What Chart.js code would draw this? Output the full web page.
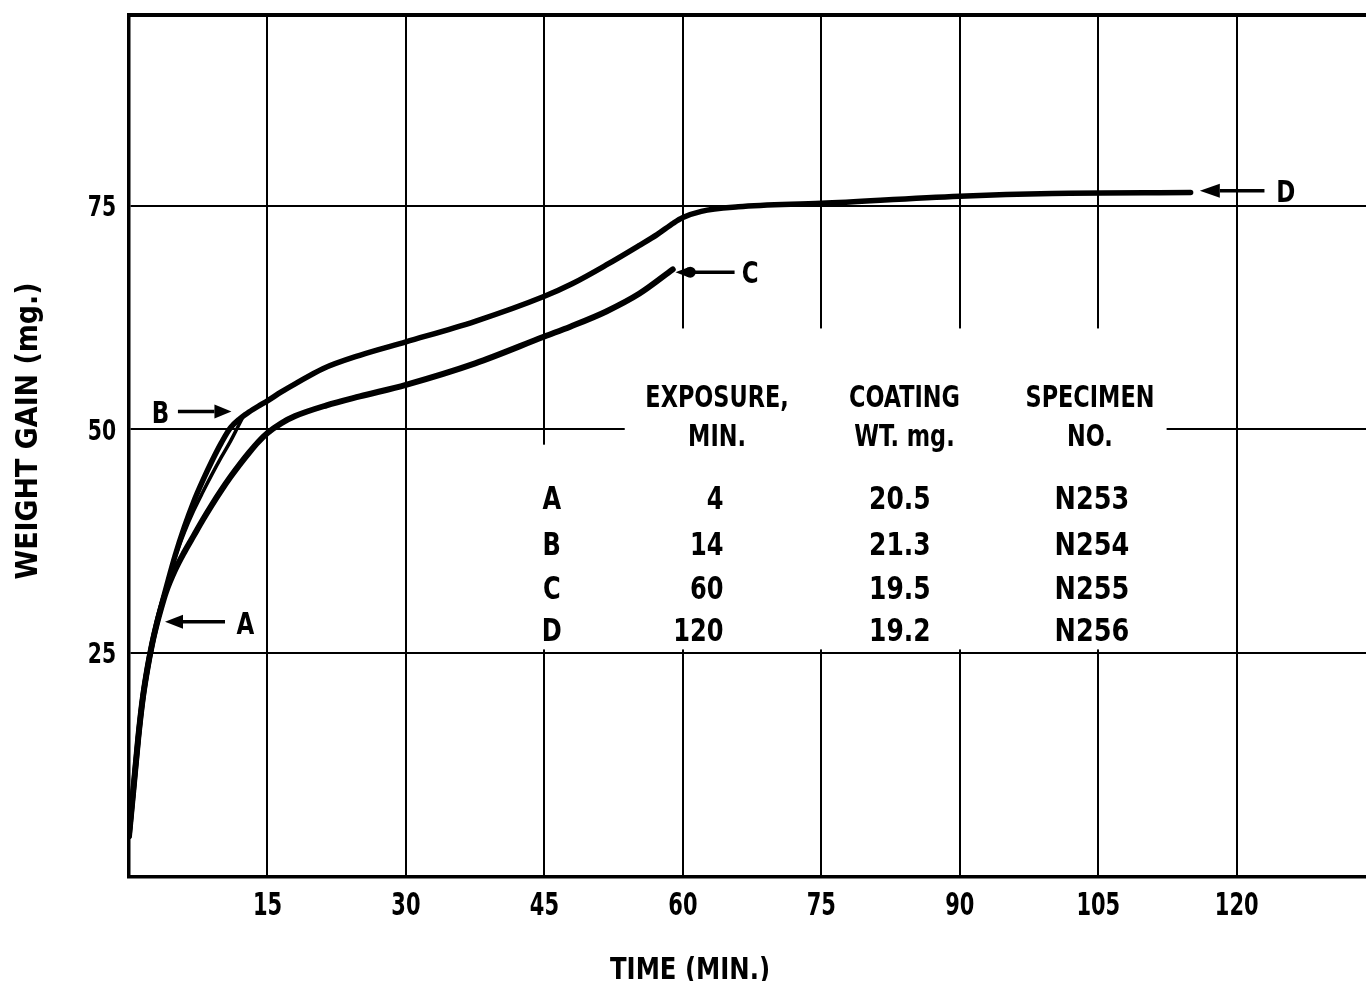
<!DOCTYPE html>
<html>
<head>
<meta charset="utf-8">
<script src="https://cdn.jsdelivr.net/npm/chart.js@4"></script>
<style>
  html, body { margin: 0; padding: 0; background: #fff; overflow: hidden; }
  #wrap { width: 1366px; height: 981px; position: relative; }
</style>
</head>
<body>
<div id="wrap"><canvas id="c"></canvas></div>
<script>
// ---- data ----
const xTicks = [15, 30, 45, 60, 75, 90, 105, 120];
const yTicks = [25, 50, 75];

const timeA = [0, 0.5, 1, 1.5, 2, 2.5, 3, 3.5, 4];
const gainA = [4.5, 10, 15.5, 20, 23.3, 26, 28.3, 30.3, 32.0];

const timeB = [0, 0.5, 1, 1.5, 2, 2.5, 3, 3.5, 4, 5, 6, 7, 8, 9, 10, 11, 11.8, 12.5];
const gainB = [4.5, 10, 15.5, 20, 23.3, 26, 28.3, 30.3, 32.2, 35.7, 38.5, 40.9, 43.0, 45.0, 46.9, 48.7, 50.3, 51.7];

const timeC = [0, 0.5, 1, 1.5, 2, 2.5, 3, 3.5, 4, 5, 6, 7, 8, 9, 10, 11, 12, 13, 14, 15, 16.5, 18, 21.4, 25, 30, 37.5, 45, 47.8, 51.7, 55.3, 58.9];
const gainC = [4.5, 10, 15.5, 20, 23.3, 26, 28.2, 30.1, 31.8, 34.3, 36.3, 38.1, 39.9, 41.6, 43.2, 44.7, 46.1, 47.4, 48.6, 49.6, 50.7, 51.5, 52.7, 53.7, 55.0, 57.4, 60.4, 61.5, 63.2, 65.2, 67.9];

const timeD = [0, 0.5, 1, 1.5, 2, 2.5, 3, 3.5, 4, 5, 6, 7, 8, 9, 10, 11, 12, 13, 14, 15, 16.5, 18, 21, 25, 30, 37.5, 45, 48, 51.7, 55.3, 57.2, 59, 60, 62, 66, 75, 90, 100, 115];
const gainD = [4.5, 10, 15.5, 20, 23.3, 26, 28.3, 30.3, 32.2, 35.9, 39.1, 41.9, 44.3, 46.5, 48.5, 50.2, 51.2, 51.95, 52.6, 53.2, 54.2, 55.1, 56.8, 58.3, 59.8, 62.1, 64.9, 66.3, 68.4, 70.6, 71.8, 73.1, 73.7, 74.4, 74.9, 75.3, 76.1, 76.4, 76.5];

const seriesNames = ['A', 'B', 'C', 'D'];
const exposureMin = ['4', '14', '60', '120'];
const coatingWt = ['20.5', '21.3', '19.5', '19.2'];
const specimenNo = ['N253', 'N254', 'N255', 'N256'];
const tableHead1 = ['EXPOSURE,', 'COATING', 'SPECIMEN'];
const tableHead2 = ['MIN.', 'WT. mg.', 'NO.'];

const xTitle = 'TIME (MIN.)';
const yTitle = 'WEIGHT GAIN (mg.)';

// ---- styling ----
const FAM = "'DejaVu Sans Condensed', 'DejaVu Sans', 'Liberation Sans', sans-serif";
const INK = '#000';
const CAP = 0.729;

function pts(t, g) { return t.map((v, i) => ({ x: v, y: g[i] })); }

// draws text with its cap-height centred on (x, cy), condensed horizontally by sx
function txt(ctx, s, x, cy, size, align, sx) {
  ctx.save();
  ctx.font = 'bold ' + size + 'px ' + FAM;
  ctx.textAlign = align;
  ctx.textBaseline = 'alphabetic';
  ctx.translate(x, cy + size * CAP / 2);
  ctx.scale(sx, 1);
  ctx.fillText(s, 0, 0);
  ctx.restore();
}
// text squeezed to a given width
function fitTxt(ctx, s, cx, cy, size, width, rot) {
  ctx.save();
  ctx.font = 'bold ' + size + 'px ' + FAM;
  const w = ctx.measureText(s).width;
  ctx.textAlign = 'center';
  ctx.textBaseline = 'alphabetic';
  ctx.translate(cx, cy);
  if (rot) ctx.rotate(rot);
  ctx.scale(width / w, 1);
  ctx.fillText(s, 0, size * CAP / 2);
  ctx.restore();
}

function arrow(ctx, x1, y1, x2, y2, len, hw, lw) {
  const a = Math.atan2(y2 - y1, x2 - x1);
  const bx = x2 - len * Math.cos(a), by = y2 - len * Math.sin(a);
  ctx.lineWidth = lw;
  ctx.beginPath(); ctx.moveTo(x1, y1); ctx.lineTo(bx, by); ctx.stroke();
  ctx.beginPath();
  ctx.moveTo(x2, y2);
  ctx.lineTo(bx + hw * Math.sin(a), by - hw * Math.cos(a));
  ctx.lineTo(bx - hw * Math.sin(a), by + hw * Math.cos(a));
  ctx.closePath(); ctx.fill();
}

const overlay = {
  id: 'overlay',
  beforeDatasetsDraw(chart) {
    const { ctx, scales: { x, y } } = chart;
    ctx.save();
    ctx.fillStyle = '#fff';
    // blank area behind the table
    const l = x.getPixelForValue(53.7), r = x.getPixelForValue(112.4);
    const t = y.getPixelForValue(61.3), b = y.getPixelForValue(25.4);
    ctx.fillRect(l, t, r - l, b - t);
    const l2 = x.getPixelForValue(44.4), r2 = x.getPixelForValue(45.6), t2 = y.getPixelForValue(48.3);
    ctx.fillRect(l2, t2, r2 - l2, b - t2);
    ctx.restore();
  },
  afterDraw(chart) {
    const { ctx, chartArea: ca, scales: { x, y } } = chart;
    const X = v => x.getPixelForValue(v), Y = v => y.getPixelForValue(v);
    ctx.save();
    ctx.strokeStyle = INK; ctx.fillStyle = INK;
    // top frame line
    ctx.lineWidth = 4;
    ctx.beginPath(); ctx.moveTo(ca.left - 1.5, ca.top); ctx.lineTo(ca.right + 5, ca.top); ctx.stroke();

    // tick labels
    x.ticks.forEach(t => txt(ctx, String(t.value), X(t.value), ca.bottom + 27, 31.5, 'center', 0.74));
    y.ticks.forEach(t => txt(ctx, String(t.value), ca.left - 13, Y(t.value), 27.5, 'right', 0.82));

    // arrows
    arrow(ctx, X(5.3), Y(52.0), X(11.1), Y(52.0), 17, 7, 3.5);   // B
    arrow(ctx, X(10.4), Y(28.5), X(3.9), Y(28.5), 18, 7, 3.5);   // A
    arrow(ctx, X(123.0), Y(76.7), X(116.0), Y(76.7), 20, 7, 3.5); // D
    // C : dot + short line
    ctx.lineWidth = 3.5;
    ctx.beginPath(); ctx.moveTo(X(65.6), Y(67.6)); ctx.lineTo(X(60.8), Y(67.6)); ctx.stroke();
    ctx.beginPath(); ctx.arc(X(60.8), Y(67.6), 5.5, 0, Math.PI * 2); ctx.fill();
    ctx.beginPath(); ctx.moveTo(X(59.2), Y(67.6)); ctx.lineTo(X(60.6), Y(67.6) - 5); ctx.lineTo(X(60.6), Y(67.6) + 5); ctx.closePath(); ctx.fill();

    txt(ctx, 'B', X(3.4), Y(52.0), 30, 'center', 0.85);
    txt(ctx, 'A', X(12.6), Y(28.4), 30, 'center', 0.85);
    txt(ctx, 'C', X(67.3), Y(67.6), 30, 'center', 0.85);
    txt(ctx, 'D', X(125.3), Y(76.7), 30, 'center', 0.85);

    // table
    const colX = [63.7, 84.0, 104.1];
    tableHead1.forEach((s, i) => txt(ctx, s, X(colX[i]), Y(53.75), 30, 'center', 0.83));
    tableHead2.forEach((s, i) => txt(ctx, s, X(colX[i]), Y(49.4), 30, 'center', 0.83));
    const rowY = [42.4, 37.3, 32.3, 27.6];
    seriesNames.forEach((s, i) => {
      txt(ctx, s, X(45.8), Y(rowY[i]), 31.5, 'center', 0.85);
      txt(ctx, exposureMin[i], X(64.4), Y(rowY[i]), 31.5, 'right', 0.85);
      txt(ctx, coatingWt[i], X(83.5), Y(rowY[i]), 31.5, 'center', 0.88);
      txt(ctx, specimenNo[i], X(104.3), Y(rowY[i]), 31.5, 'center', 0.9);
    });

    // axis titles
    fitTxt(ctx, xTitle, 690, 968, 30, 160, 0);
    fitTxt(ctx, yTitle, 26, 431, 30, 297, -Math.PI / 2);
    ctx.restore();
  }
};

const lineStyle = {
  borderColor: INK, backgroundColor: INK, pointRadius: 0, fill: false,
  cubicInterpolationMode: 'monotone', borderCapStyle: 'round', borderJoinStyle: 'round'
};

new Chart(document.getElementById('c'), {
  type: 'line',
  data: {
    datasets: [
      { label: 'A', data: pts(timeA, gainA), borderWidth: 5, ...lineStyle },
      { label: 'B', data: pts(timeB, gainB), borderWidth: 3.5, ...lineStyle },
      { label: 'C', data: pts(timeC, gainC), borderWidth: 6, ...lineStyle },
      { label: 'D', data: pts(timeD, gainD), borderWidth: 5.5, ...lineStyle }
    ]
  },
  options: {
    responsive: true, maintainAspectRatio: false, animation: false,
    layout: { padding: { top: 15, left: 0, right: 0, bottom: 0 } },
    plugins: { legend: { display: false }, tooltip: { enabled: false } },
    scales: {
      x: {
        type: 'linear', min: 0, max: 134,
        afterBuildTicks: s => { s.ticks = xTicks.map(v => ({ value: v })); },
        afterFit: s => { s.height = 104.5; s.paddingLeft = 0; s.paddingRight = 0; },
        grid: { color: INK, lineWidth: 2, drawTicks: false },
        border: { color: INK, width: 3.5 },
        ticks: { display: false }
      },
      y: {
        type: 'linear', min: 0, max: 96.36,
        afterBuildTicks: s => { s.ticks = yTicks.map(v => ({ value: v })); },
        afterFit: s => { s.width = 129; s.paddingTop = 0; s.paddingBottom = 0; },
        grid: { color: INK, lineWidth: 2, drawTicks: false },
        border: { color: INK, width: 3.5 },
        ticks: { display: false }
      }
    }
  },
  plugins: [overlay]
});
</script>
</body>
</html>
